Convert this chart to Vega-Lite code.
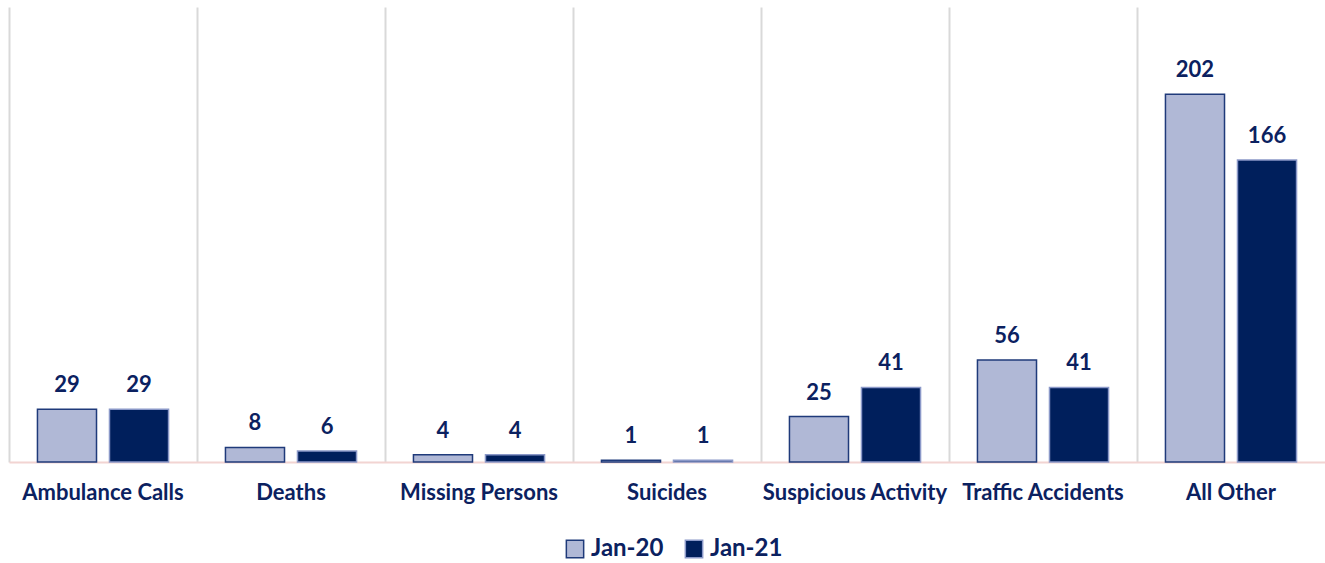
{
  "$schema": "https://vega.github.io/schema/vega-lite/v6.json",
  "width": 1316,
  "height": 455,
  "autosize": "none",
  "padding": {"left": 9, "top": 7, "right": 0, "bottom": 101},
  "background": "white",
  "config": {
    "view": {"stroke": null},
    "font": "Lato"
  },
  "data": {
    "values": [
      {"category": "Ambulance Calls", "series": "Jan-20", "value": 29},
      {"category": "Ambulance Calls", "series": "Jan-21", "value": 29},
      {"category": "Deaths", "series": "Jan-20", "value": 8},
      {"category": "Deaths", "series": "Jan-21", "value": 6},
      {"category": "Missing Persons", "series": "Jan-20", "value": 4},
      {"category": "Missing Persons", "series": "Jan-21", "value": 4},
      {"category": "Suicides", "series": "Jan-20", "value": 1},
      {"category": "Suicides", "series": "Jan-21", "value": 1},
      {"category": "Suspicious Activity", "series": "Jan-20", "value": 25},
      {"category": "Suspicious Activity", "series": "Jan-21", "value": 41},
      {"category": "Traffic Accidents", "series": "Jan-20", "value": 56},
      {"category": "Traffic Accidents", "series": "Jan-21", "value": 41},
      {"category": "All Other", "series": "Jan-20", "value": 202},
      {"category": "All Other", "series": "Jan-21", "value": 166}
    ]
  },
  "encoding": {
    "x": {
      "field": "category",
      "type": "nominal",
      "sort": null,
      "scale": {"paddingInner": 0, "paddingOuter": 0},
      "axis": {
        "title": null,
        "labelAngle": 0,
        "labelFont": "Lato",
        "labelFontSize": 22,
        "labelFontWeight": "bold",
        "labelColor": "#0b2160",
        "labelPadding": 20,
        "labelLimit": 400,
        "labelOverlap": false,
        "ticks": false,
        "bandPosition": 0,
        "grid": true,
        "gridColor": "#d9d9d9",
        "gridWidth": 2,
        "domainColor": "#f2d4d2",
        "domainWidth": 2
      }
    },
    "xOffset": {
      "field": "series",
      "type": "nominal",
      "scale": {"paddingInner": 0.18, "paddingOuter": 0.395}
    },
    "y": {
      "field": "value",
      "type": "quantitative",
      "scale": {"domain": [0, 250]},
      "axis": null
    }
  },
  "layer": [
    {
      "mark": {"type": "bar", "strokeWidth": 1.5},
      "encoding": {
        "color": {
          "field": "series",
          "type": "nominal",
          "scale": {"domain": ["Jan-20", "Jan-21"], "range": ["#b0b8d6", "#001f5c"]},
          "legend": {
            "title": null,
            "orient": "none",
            "legendX": 554,
            "legendY": 530,
            "direction": "horizontal",
            "symbolType": "square",
            "symbolSize": 300,
            "symbolStrokeColor": "#1f3a7a",
            "symbolStrokeWidth": 1.5,
            "labelFont": "Lato",
            "labelFontSize": 24,
            "labelFontWeight": "bold",
            "labelColor": "#0b2160",
            "columnPadding": 18,
            "labelOffset": 4
          }
        },
        "stroke": {
          "field": "series",
          "type": "nominal",
          "scale": {"domain": ["Jan-20", "Jan-21"], "range": ["#1f3a7a", "#8a98c8"]},
          "legend": null
        }
      }
    },
    {
      "mark": {
        "type": "text",
        "baseline": "bottom",
        "dy": -12,
        "font": "Lato",
        "fontSize": 22,
        "fontWeight": "bold",
        "color": "#0b2160"
      },
      "encoding": {
        "text": {"field": "value", "type": "quantitative"}
      }
    }
  ]
}
